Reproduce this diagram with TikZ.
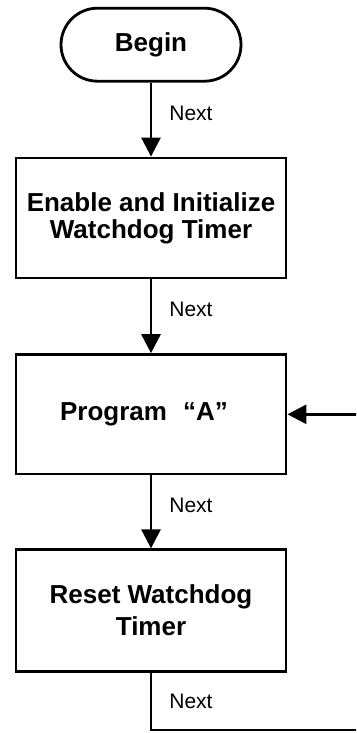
\documentclass[tikz,border=0pt]{standalone}
\usepackage{fontspec}
\setmainfont{Liberation Sans}
\usetikzlibrary{arrows.meta}
\begin{document}
\begin{tikzpicture}[x=1pt,y=1pt,line width=2.8pt,
  stepbox/.style={draw, rectangle, minimum width=270pt, minimum height=#1, inner sep=0pt, align=center},
  termbox/.style={draw, rectangle, rounded corners=36.5pt, minimum width=180pt, minimum height=73pt, inner sep=0pt},
  bigtext/.style={font=\fontsize{26}{#1}\selectfont\bfseries},
  nextlbl/.style={anchor=west, inner sep=0pt, font=\fontsize{21}{21}\selectfont},
  flow/.style={-{Triangle[length=19pt,width=19pt]}}]
\useasboundingbox (0,0) rectangle (356,-733);
\begin{scope}
\clip (0,0) rectangle (356,-733);
\node[termbox, bigtext=27] (begin) at (151,-44.7) {Begin};
\node[stepbox=120pt, bigtext=27] (box1) at (151,-218) {Enable and Initialize\\Watchdog Timer};
\node[stepbox=119.5pt] (box2) at (151,-414.3) {};
\node[inner sep=0pt, bigtext=27] (prog) at (144,-414.3) {Program\hspace{16pt}“A”};
\node[stepbox=121.5pt, bigtext=32] (box3) at (151,-610.5) {Reset Watchdog\\Timer};
\coordinate (loopR) at (380,-730);
\coordinate (loopT) at (380,-414.3);
\draw[flow] (begin) -- (box1);
\draw[flow] (box1) -- (box2);
\draw[flow] (box2) -- (box3);
\draw[flow] (box3.south) |- (loopR) -- (loopT) -- (box2.east);
\node[nextlbl] (n1) at (168,-113) {Next};
\node[nextlbl] (n2) at (168,-309) {Next};
\node[nextlbl] (n3) at (168,-505) {Next};
\node[nextlbl] (n4) at (168,-701) {Next};
\end{scope}
\end{tikzpicture}
\end{document}
